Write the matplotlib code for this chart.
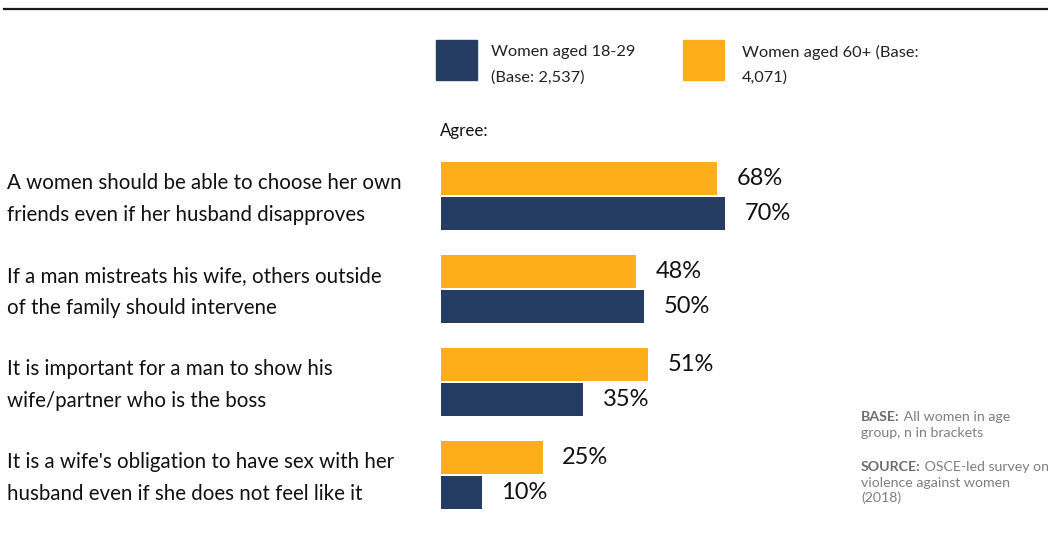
import matplotlib
matplotlib.use("Agg")
import matplotlib.pyplot as plt
from matplotlib.patches import Rectangle
import numpy as np

plt.rcParams['font.family'] = ['Lato', 'DejaVu Sans']

statements = [
    "A women should be able to choose her own\nfriends even if her husband disapproves",
    "If a man mistreats his wife, others outside\nof the family should intervene",
    "It is important for a man to show his\nwife/partner who is the boss",
    "It is a wife's obligation to have sex with her\nhusband even if she does not feel like it",
]
women_18_29 = [70, 50, 35, 10]
women_60 = [68, 48, 51, 25]
series_names = ["Women aged 18-29\n(Base: 2,537)", "Women aged 60+ (Base:\n4,071)"]

navy = "#253d63"
orange = "#fdae1a"
W, H = 1048, 537

def fx(px):
    return px / W

def fy(py):
    return 1 - py / H

fig = plt.figure(figsize=(W / 100, H / 100), dpi=100)

# bars axes: x 441..847 px = 0..100 %, y 149.5..521.5 px
ax = fig.add_axes([fx(441), fy(521.5), fx(406), 372 / H])
ax.set_xlim(0, 100)
ax.set_ylim(3.5, -0.5)
ax.axis("off")

pos = np.arange(len(statements))
off = 0.185
hgt = 0.352
b1 = ax.barh(pos - off, women_60, height=hgt, color=orange)
b2 = ax.barh(pos + off, women_18_29, height=hgt, color=navy)

for bars, vals in [(b1, women_60), (b2, women_18_29)]:
    for b, v in zip(bars, vals):
        ax.annotate(f"{v}%", xy=(v, b.get_y() + b.get_height() / 2),
                    xytext=(14, 0), textcoords="offset points",
                    va="center", ha="left", fontsize=17, color="#111111")

for p, s in zip(pos, statements):
    ax.annotate(s, xy=(0, p), xycoords="data", xytext=(fx(7), -2),
                textcoords=("figure fraction", "offset points"),
                va="center", ha="left", fontsize=14.8, color="#111111",
                linespacing=1.72)

# top rule
fig.add_artist(plt.Line2D([fx(4), 1], [fy(9), fy(9)], color="#1a1a1a", lw=1.6))

# legend
fig.add_artist(Rectangle((fx(436), fy(80)), fx(41), 40 / H, color=navy,
                         transform=fig.transFigure))
fig.add_artist(Rectangle((fx(683), fy(80)), fx(41), 40 / H, color=orange,
                         transform=fig.transFigure))
fig.text(fx(491), fy(65), series_names[0], va="center", ha="left",
         fontsize=11.8, color="#222222", linespacing=1.95)
fig.text(fx(742), fy(65), series_names[1], va="center", ha="left",
         fontsize=11.8, color="#222222", linespacing=1.95)

fig.text(fx(440), fy(131), "Agree:", va="center", ha="left",
         fontsize=12.2, color="#111111")

# footnotes
gray = "#7f7f7f"
fs = 10.2
t1 = fig.text(fx(861), fy(417), "BASE:", fontsize=fs, fontweight="bold",
              color="#6e6e6e", va="center", ha="left")
ax.annotate(" All women in age", xy=(1, 0.5), xycoords=t1, va="center",
            ha="left", fontsize=fs, color=gray)
fig.text(fx(861), fy(433), "group, n in brackets", fontsize=fs, color=gray,
         va="center", ha="left")
t2 = fig.text(fx(861), fy(467), "SOURCE:", fontsize=fs, fontweight="bold",
              color="#6e6e6e", va="center", ha="left")
ax.annotate(" OSCE-led survey on", xy=(1, 0.5), xycoords=t2, va="center",
            ha="left", fontsize=fs, color=gray)
fig.text(fx(861), fy(483), "violence against women", fontsize=fs,
         color=gray, va="center", ha="left")
fig.text(fx(861), fy(498), "(2018)", fontsize=fs,
         color=gray, va="center", ha="left")

fig.savefig("out.png", dpi=100)
